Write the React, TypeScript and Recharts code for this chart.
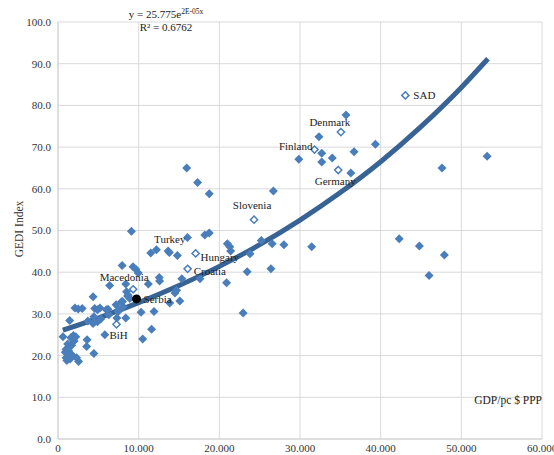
import { ComposedChart, Scatter, Line, XAxis, YAxis, CartesianGrid } from 'recharts';

// GDP per capita (PPP $) and GEDI index for the unlabelled countries
const gdpPc = [
  620, 900, 1000, 1100, 1200, 1300, 1350, 1450, 1500, 1600, 1700, 1800, 1900, 2000, 1450, 2100,
  2300, 2550, 2200, 2100, 2500, 3000, 3550, 3600, 4350, 4450, 4450, 4550, 4900, 5200, 5300, 5800,
  6000, 6400, 6300, 7200, 7300, 7500, 7950, 8000, 8400, 8500, 8700, 8400, 9100, 9300, 9650, 9950,
  10300, 10500, 11200, 11500, 11600, 11900, 12200, 12550, 12600, 13650, 13800, 13850, 14500, 14700,
  14800, 15100, 15350, 15950, 17300, 17600, 18200, 18750, 18750, 20900, 21000, 21300, 21400, 22950,
  23450, 23800, 25200, 26400, 26550, 26700, 28000, 29850, 31450, 32350, 32700, 32700, 34000, 35700,
  36300, 36700, 39350, 42300, 44800, 46000, 47600, 47900, 53200, 7450, 8070, 7870, 8900, 8620, 6200,
  4350, 4890, 3700, 1000, 1200,
];
const gediIndex = [
  24.5, 20.8, 19.5, 18.8, 20.3, 21.2, 19.8, 20.6, 19.2, 24.3, 22.5, 20.0, 24.8, 23.5, 28.4, 24.4,
  19.5, 18.6, 24.5, 31.4, 31.2, 31.3, 22.2, 23.8, 34.1, 20.5, 29.3, 31.3, 31.0, 31.4, 28.8, 25.0,
  31.0, 36.8, 29.8, 32.2, 29.0, 31.0, 41.6, 33.0, 37.2, 35.3, 34.5, 29.0, 49.8, 41.3, 40.7, 39.8,
  30.4, 24.0, 37.2, 44.6, 26.3, 30.6, 45.4, 38.7, 37.9, 45.1, 44.7, 32.6, 35.0, 35.7,
  44.0, 33.1, 38.4, 65.0, 61.5, 38.4, 48.9, 49.4, 58.8, 37.5, 46.8, 46.1, 45.1, 30.2,
  40.1, 44.4, 47.6, 40.8, 46.8, 59.5, 46.6, 67.1, 46.1, 72.5, 68.5, 66.4, 67.4, 77.7,
  63.8, 68.9, 70.7, 48.0, 46.3, 39.2, 65.0, 44.1, 67.8, 30.6, 31.7, 32.9, 33.7, 34.3, 31.1,
  27.7, 28.1, 28.3, 21.5, 22.8,
];

// labelled countries
const countryNames = ['SAD', 'Denmark', 'Finland', 'Germany', 'Slovenia', 'Turkey', 'Hungary', 'Croatia', 'Macedonia', 'BiH'];
const countryGdp = [43060, 35070, 31800, 34740, 24300, 16050, 17060, 16070, 9315, 7250];
const countryGedi = [82.4, 73.6, 69.4, 64.5, 52.6, 48.3, 44.5, 40.8, 35.9, 27.5];

const serbiaName = 'Serbia';
const serbiaGdp = 9735;
const serbiaGedi = 33.6;

// exponential trend, values
const trendGdp = [600, 5000, 10000, 15000, 20000, 25000, 30000, 35000, 40000, 45000, 50000, 53300];
const trendGedi = [26.1, 29.0, 32.7, 36.8, 41.4, 46.6, 52.5, 59.1, 66.5, 74.9, 84.3, 91.2];

const xTicks = [0, 10000, 20000, 30000, 40000, 50000, 60000];
const yTicks = [0, 10, 20, 30, 40, 50, 60, 70, 80, 90, 100];

const BLUE = '#4a7ebb';
const TREND = '#386395';
const FONT = '"Liberation Serif", "Times New Roman", serif';

const labelStyle: Record<string, { dx: number; dy: number; anchor: 'start' | 'middle' | 'end'; filled?: boolean }> = {
  SAD: { dx: 8, dy: 0, anchor: 'start' },
  Denmark: { dx: -11, dy: -10, anchor: 'middle' },
  Finland: { dx: -2, dy: -4, anchor: 'end' },
  Germany: { dx: -3, dy: 11, anchor: 'middle' },
  Slovenia: { dx: -2, dy: -15, anchor: 'middle' },
  Turkey: { dx: -2, dy: 1, anchor: 'end', filled: true },
  Hungary: { dx: 5, dy: 4, anchor: 'start' },
  Croatia: { dx: 6, dy: 2, anchor: 'start' },
  Macedonia: { dx: -9, dy: -12, anchor: 'middle' },
  BiH: { dx: -7, dy: 11, anchor: 'start' },
  Serbia: { dx: 7, dy: 0, anchor: 'start' },
};

const mainData = gdpPc.map((x, i) => ({ x, y: gediIndex[i] }));
const countryData = countryNames.map((name, i) => ({ name, x: countryGdp[i], y: countryGedi[i] }));
const serbiaData = [{ name: serbiaName, x: serbiaGdp, y: serbiaGedi }];
const trendData = trendGdp.map((x, i) => ({ x, y: trendGedi[i] }));

const fmtX = (v: number) => (v === 0 ? '0' : v.toLocaleString('de-DE'));
const fmtY = (v: number) => v.toFixed(1);

const Diamond = (p: any) => {
  const { cx, cy } = p;
  const r = 4.5;
  return <path d={`M${cx},${cy - r}L${cx + r},${cy}L${cx},${cy + r}L${cx - r},${cy}Z`} fill={BLUE} />;
};

const CountryMark = (p: any) => {
  const { cx, cy, payload } = p;
  const s = labelStyle[payload.name];
  const r = s.filled ? 4.5 : 3.6;
  return (
    <g>
      <path
        d={`M${cx},${cy - r}L${cx + r},${cy}L${cx},${cy + r}L${cx - r},${cy}Z`}
        fill={s.filled ? BLUE : '#fff'}
        stroke={BLUE}
        strokeWidth={s.filled ? 0 : 1.5}
      />
      <text x={cx + s.dx} y={cy + s.dy} textAnchor={s.anchor} dominantBaseline="central" fontSize={11} fontFamily={FONT} fill="#222">
        {payload.name}
      </text>
    </g>
  );
};

const SerbiaMark = (p: any) => {
  const { cx, cy, payload } = p;
  const s = labelStyle[payload.name];
  return (
    <g>
      <circle cx={cx} cy={cy} r={4.5} fill="#000" />
      <text x={cx + s.dx} y={cy + s.dy} textAnchor={s.anchor} dominantBaseline="central" fontSize={11} fontFamily={FONT} fill="#222">
        {payload.name}
      </text>
    </g>
  );
};

export default function App() {
  return (
    <div style={{ position: 'relative', width: 554, height: 455, fontFamily: FONT, background: '#fff' }}>
      <style>{'body{margin:0}'}</style>
      <ComposedChart width={554} height={455} margin={{ top: 22, right: 12, bottom: 0, left: 0 }}>
        <CartesianGrid stroke="#d9d9d9" />
        <XAxis
          dataKey="x"
          type="number"
          domain={[0, 60000]}
          ticks={xTicks}
          tickFormatter={fmtX}
          height={16}
          tickLine={false}
          tickSize={0}
          tickMargin={5}
          axisLine={{ stroke: '#d0d0d0' }}
          tick={{ fontSize: 11, fill: '#333', fontFamily: FONT }}
          interval={0}
          allowDataOverflow
        />
        <YAxis
          dataKey="y"
          type="number"
          domain={[0, 100]}
          ticks={yTicks}
          tickFormatter={fmtY}
          width={58}
          tickLine={false}
          tickSize={0}
          tickMargin={7}
          axisLine={{ stroke: '#d0d0d0' }}
          tick={{ fontSize: 11, fill: '#333', fontFamily: FONT }}
          interval={0}
        />
        <Scatter data={mainData} shape={Diamond} isAnimationActive={false} />
        <Line data={trendData} dataKey="y" type="monotone" stroke={TREND} strokeWidth={5} dot={false} isAnimationActive={false} />
        <Scatter data={countryData} shape={CountryMark} isAnimationActive={false} />
        <Scatter data={serbiaData} shape={SerbiaMark} isAnimationActive={false} />
      </ComposedChart>
      <div style={{ position: 'absolute', left: 114, top: 8, width: 104, textAlign: 'center', fontSize: 11, lineHeight: '13px', color: '#222' }}>
        y = 25.775e<sup style={{ fontSize: 7.5, verticalAlign: 'top', lineHeight: '8px' }}>2E-05x</sup>
        <br />
        R² = 0.6762
      </div>
      <div
        style={{
          position: 'absolute',
          left: 19,
          top: 229,
          transform: 'translate(-50%, -50%) rotate(-90deg)',
          fontSize: 11.5,
          whiteSpace: 'nowrap',
          color: '#333',
        }}
      >
        GEDI Index
      </div>
      <div style={{ position: 'absolute', right: 12, top: 394, fontSize: 11.5, color: '#222', whiteSpace: 'nowrap' }}>GDP/pc $ PPP</div>
    </div>
  );
}
